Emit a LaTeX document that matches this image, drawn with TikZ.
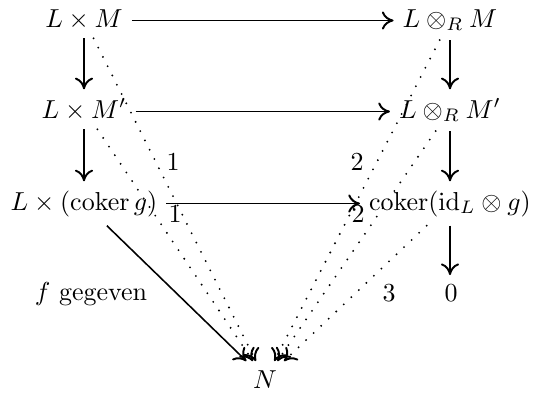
\documentclass[tikz,border=0pt]{standalone}
\usepackage{amsmath}
\usetikzlibrary{arrows.meta}
\begin{document}
\begin{tikzpicture}[x=0.385pt,y=-0.385pt,
  every node/.style={inner sep=3.333pt},
  cdarrow/.style={line width=0.6pt,-{Computer Modern Rightarrow[length=4.5pt,width=7pt,line width=0.75pt]}},
  dotarrow/.style={cdarrow, dash pattern=on 0pt off 4pt, line cap=round, line width=0.8pt},
  lbl/.style={inner sep=0pt}]
\useasboundingbox (0,0) rectangle (533,396);
\node[anchor=base] (a) at (84,27) {$L\times M$};
\node[anchor=base] (b) at (450,27) {$L\otimes_R M$};
\node[anchor=base] (c) at (84,118) {$L\times M'$};
\node[anchor=base] (d) at (450,118) {$L\otimes_R M'$};
\node[anchor=base] (e) at (84,210) {$L\times(\operatorname{coker} g)$};
\node[anchor=base] (f) at (450,210) {$\operatorname{coker}(\mathrm{id}_L\otimes g)$};
\node[anchor=base] (z) at (451,301) {$0$};
\node[anchor=base] (n) at (265,388) {$N$};
% horizontal arrows
\draw[cdarrow] ([yshift=2.5pt]a.base east) -- ([yshift=2.5pt]a.base east -| b.west);
\draw[cdarrow] ([yshift=2.5pt]c.base east) -- ([yshift=2.5pt]c.base east -| d.west);
\draw[cdarrow] ([yshift=2.5pt]e.base east) -- ([yshift=2.5pt]e.base east -| f.west);
% vertical arrows
\draw[cdarrow] (a) -- (c);
\draw[cdarrow] (c) -- (e);
\draw[cdarrow] (b) -- (d);
\draw[cdarrow] (d) -- (f);
\draw[cdarrow] (f) -- (f |- z.north);
% to N
\draw[cdarrow] (e) -- (n);
\draw[dotarrow] (a) -- (n);
\draw[dotarrow] (c) -- (n);
\draw[dotarrow] (b) -- (n);
\draw[dotarrow] (d) -- (n);
\draw[dotarrow] (f) -- (n);
% labels
\node[lbl] (l1a) at (173,162) {$1$};
\node[lbl] (l1b) at (175,214) {$1$};
\node[lbl] (l2a) at (357,162) {$2$};
\node[lbl] (l2b) at (358,214) {$2$};
\node[lbl] (l3) at (389,293) {$3$};
\node[anchor=base] (lf) at (91,300) {$f$ gegeven};
\end{tikzpicture}
\end{document}
